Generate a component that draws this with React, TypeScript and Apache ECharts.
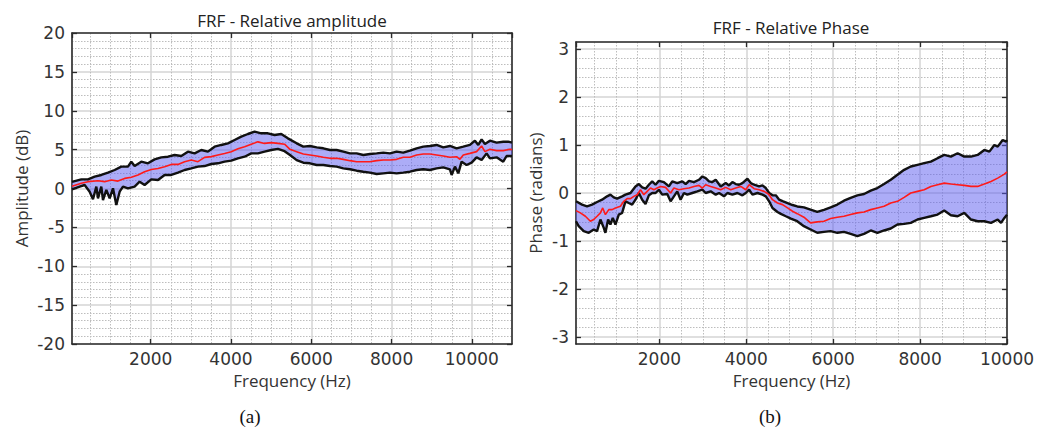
import React, { useEffect, useRef } from 'react';
import * as echarts from 'echarts';

// ---- Amplitude plot (a) : [frequency Hz, dB] ----
const ampUpper: number[][] = [
  [40, 0.85], [272, 1.18], [438, 1.18], [604, 1.52], [770, 1.74], [936, 2.04], [1102, 2.38], [1268, 2.81],
  [1434, 2.81], [1517, 3.45], [1600, 2.89], [1766, 3.45], [1932, 3.24], [2098, 3.75], [2264, 4.01],
  [2430, 4.09], [2596, 4.31], [2762, 4.18], [2928, 4.74], [3094, 4.52], [3260, 4.95], [3426, 4.74],
  [3592, 5.38], [3758, 5.6], [3924, 5.81], [4090, 6.24], [4256, 6.67], [4422, 7.01], [4588, 7.31],
  [4754, 7.1], [4920, 7.1], [5086, 6.88], [5252, 7.01], [5418, 6.45], [5636, 5.81], [5802, 5.38],
  [5968, 5.47], [6134, 5.29], [6300, 5.17], [6466, 4.95], [6632, 4.95], [6798, 4.74], [6964, 4.52],
  [7130, 4.52], [7296, 4.31], [7462, 4.44], [7628, 4.52], [7794, 4.61], [7960, 4.52], [8126, 4.74],
  [8292, 4.61], [8458, 4.87], [8624, 5.17], [8790, 5.38], [8956, 5.47], [9122, 5.6], [9288, 5.29],
  [9454, 5.47], [9620, 5.17], [9786, 5.38], [9952, 5.6], [10077, 6.15], [10160, 5.6], [10243, 6.32],
  [10326, 5.72], [10450, 6.15], [10616, 5.9], [10782, 6.02], [10907, 6.02], [11000, 5.9],
];
const ampMean: number[][] = [
  [40, 0.3], [272, 0.67], [438, 0.88], [687, 1.0], [853, 0.88], [1019, 1.1], [1185, 0.95], [1351, 1.3],
  [1517, 1.44], [1683, 1.73], [1849, 2.16], [2015, 2.45], [2181, 2.57], [2347, 2.8], [2513, 3.1],
  [2679, 3.1], [2845, 3.45], [3011, 3.66], [3177, 3.45], [3343, 4.0], [3509, 4.1], [3675, 4.3],
  [3841, 4.5], [4007, 4.74], [4173, 5.1], [4339, 5.38], [4505, 5.7], [4671, 6.0], [4837, 5.8],
  [5003, 5.9], [5169, 5.8], [5335, 5.7], [5470, 5.04], [5636, 4.74], [5802, 4.44], [5968, 4.31],
  [6134, 4.18], [6300, 4.01], [6466, 3.88], [6632, 3.88], [6798, 3.75], [6964, 3.58], [7130, 3.45],
  [7296, 3.45], [7462, 3.45], [7628, 3.58], [7794, 3.67], [7960, 3.67], [8126, 3.75], [8292, 4.01],
  [8458, 4.01], [8624, 4.31], [8790, 4.44], [8956, 4.44], [9122, 4.31], [9288, 4.18], [9454, 4.01],
  [9620, 4.09], [9703, 3.75], [9786, 4.31], [9952, 4.52], [10118, 4.74], [10243, 5.47], [10326, 4.74],
  [10450, 5.04], [10616, 4.87], [10782, 4.87], [10948, 5.04], [11000, 5.0],
];
const ampLower: number[][] = [
  [40, -0.11], [231, 0.24], [355, 0.45], [480, -0.41], [563, -1.39], [646, 0.24], [687, -1.26],
  [770, 0.24], [812, -1.48], [895, -0.19], [978, -1.26], [1061, 0.02], [1144, -2.12], [1227, -0.41],
  [1310, 0.24], [1434, 0.02], [1600, 0.24], [1725, 0.88], [1849, 0.45], [2015, 1.18], [2181, 1.09],
  [2347, 1.74], [2513, 1.74], [2679, 2.04], [2845, 2.38], [3011, 2.59], [3177, 2.81], [3343, 2.89],
  [3509, 3.15], [3675, 3.24], [3841, 3.45], [4007, 3.58], [4173, 3.88], [4339, 4.09], [4505, 4.52],
  [4671, 4.52], [4837, 4.74], [5003, 4.95], [5169, 5.1], [5335, 4.8], [5470, 4.3], [5636, 3.65],
  [5802, 3.32], [5968, 3.24], [6134, 3.02], [6300, 3.02], [6466, 2.89], [6632, 2.81], [6798, 2.59],
  [6964, 2.47], [7130, 2.29], [7296, 2.16], [7462, 2.04], [7628, 1.86], [7794, 1.95], [7960, 2.04],
  [8126, 1.95], [8292, 2.04], [8458, 2.16], [8624, 2.38], [8790, 2.47], [8956, 2.38], [9122, 2.59],
  [9288, 2.72], [9454, 2.47], [9496, 1.74], [9579, 2.81], [9662, 1.95], [9745, 3.45], [9869, 3.02],
  [9994, 3.32], [10118, 4.01], [10243, 3.67], [10367, 4.52], [10450, 3.88], [10616, 4.01],
  [10782, 3.45], [10865, 4.18], [11000, 4.18],
];

// ---- Phase plot (b) : [frequency Hz, radians] ----
const phaseUpper: number[][] = [
  [81, -0.173], [220, -0.242], [335, -0.277], [450, -0.242], [566, -0.187], [681, -0.139], [796, -0.07],
  [873, -0.035], [950, -0.09], [1027, -0.118], [1143, -0.07], [1219, -0.035], [1335, 0], [1450, 0.137],
  [1527, 0.186], [1604, 0.117], [1681, 0.089], [1758, 0.172], [1835, 0.241], [1912, 0.172], [1988, 0.254],
  [2104, 0.227], [2219, 0.137], [2296, 0.241], [2411, 0.206], [2527, 0.241], [2604, 0.186], [2681, 0.254],
  [2796, 0.227], [2911, 0.275], [2988, 0.344], [3065, 0.31], [3142, 0.241], [3219, 0.227], [3296, 0.275],
  [3411, 0.137], [3526, 0.206], [3603, 0.158], [3680, 0.227], [3757, 0.186], [3834, 0.172], [3911, 0.206],
  [4026, 0.296], [4103, 0.206], [4180, 0.172], [4295, 0.137], [4372, 0.158], [4449, 0.103], [4526, 0],
  [4603, -0.049], [4680, -0.049], [4757, -0.139], [4834, -0.17], [4949, -0.21], [5064, -0.25],
  [5172, -0.28], [5326, -0.3], [5479, -0.346], [5633, -0.394], [5787, -0.35], [5941, -0.3],
  [6095, -0.24], [6248, -0.16], [6402, -0.1], [6556, -0.049], [6710, -0.021], [6864, 0.048],
  [7017, 0.103], [7171, 0.186], [7325, 0.275], [7479, 0.379], [7633, 0.482], [7786, 0.551], [7940, 0.586],
  [8094, 0.62], [8248, 0.654], [8402, 0.724], [8555, 0.792], [8709, 0.758], [8863, 0.827], [9017, 0.758],
  [9171, 0.758], [9324, 0.792], [9478, 0.896], [9594, 0.861], [9709, 0.999], [9786, 0.965], [9901, 1.103],
  [9978, 1.068], [10000, 1.1],
];
const phaseMean: number[][] = [
  [81, -0.366], [181, -0.414], [297, -0.484], [412, -0.587], [489, -0.552], [566, -0.484], [643, -0.414],
  [696, -0.311], [758, -0.449], [835, -0.346], [912, -0.346], [989, -0.311], [1104, -0.277], [1181, -0.173],
  [1258, -0.118], [1335, -0.118], [1412, -0.07], [1489, -0.035], [1565, 0.068], [1642, -0.035], [1719, 0.034],
  [1796, 0.103], [1873, 0.068], [1950, 0.103], [2027, 0.137], [2142, 0.117], [2258, 0], [2334, 0.103],
  [2450, 0.068], [2565, 0.089], [2681, 0.103], [2796, 0.137], [2911, 0.158], [2988, 0.103], [3065, 0.172],
  [3180, 0.137], [3296, 0.103], [3411, 0.068], [3526, 0.117], [3642, 0.068], [3757, 0.103], [3873, 0.137],
  [3988, 0.068], [4065, 0.172], [4180, 0.089], [4295, 0.068], [4411, 0.034], [4526, -0.035], [4603, -0.139],
  [4718, -0.208], [4834, -0.242], [4949, -0.311], [5064, -0.38], [5172, -0.43], [5326, -0.504],
  [5479, -0.621], [5633, -0.601], [5787, -0.587], [5941, -0.532], [6095, -0.504], [6248, -0.484],
  [6402, -0.449], [6556, -0.414], [6710, -0.394], [6864, -0.346], [7017, -0.311], [7171, -0.277],
  [7325, -0.208], [7479, -0.173], [7633, -0.09], [7786, 0], [7940, 0.034], [8094, 0.068], [8248, 0.137],
  [8402, 0.172], [8555, 0.206], [8709, 0.186], [8863, 0.172], [9017, 0.158], [9171, 0.137], [9324, 0.137],
  [9478, 0.186], [9632, 0.241], [9786, 0.31], [9940, 0.392], [10000, 0.44],
];
const phaseLower: number[][] = [
  [81, -0.587], [143, -0.69], [258, -0.794], [374, -0.828], [489, -0.759], [566, -0.794], [643, -0.552],
  [720, -0.725], [758, -0.828], [820, -0.552], [873, -0.656], [927, -0.518], [989, -0.656], [1066, -0.449],
  [1143, -0.414], [1219, -0.173], [1296, -0.208], [1373, -0.242], [1450, -0.139], [1527, 0], [1604, -0.139],
  [1681, -0.228], [1758, -0.049], [1835, 0], [1912, 0], [1988, 0.068], [2065, -0.035], [2181, -0.021],
  [2258, -0.173], [2334, -0.07], [2411, 0.034], [2488, -0.139], [2565, 0], [2642, -0.035], [2757, 0],
  [2873, 0.034], [2988, 0.068], [3065, 0], [3180, 0.034], [3296, -0.035], [3373, 0], [3488, -0.07],
  [3565, 0], [3680, -0.035], [3796, 0], [3911, -0.049], [3988, 0], [4065, 0.068], [4142, -0.035],
  [4257, 0], [4372, -0.035], [4449, -0.07], [4526, -0.173], [4603, -0.311], [4718, -0.394], [4795, -0.435],
  [4911, -0.484], [5026, -0.532], [5172, -0.587], [5326, -0.69], [5479, -0.759], [5633, -0.828],
  [5787, -0.808], [5941, -0.794], [6095, -0.828], [6248, -0.808], [6402, -0.849], [6556, -0.897],
  [6710, -0.849], [6864, -0.78], [7017, -0.828], [7171, -0.78], [7325, -0.739], [7479, -0.656],
  [7633, -0.642], [7786, -0.621], [7940, -0.552], [8094, -0.518], [8248, -0.484], [8402, -0.449],
  [8555, -0.366], [8709, -0.463], [8863, -0.484], [9017, -0.414], [9171, -0.552], [9324, -0.587],
  [9478, -0.587], [9632, -0.621], [9786, -0.552], [9863, -0.621], [9940, -0.518], [10000, -0.45],
];

const titles = ['FRF - Relative amplitude', 'FRF - Relative Phase'];
const captions = ['(a)', '(b)'];
const xName = 'Frequency (Hz)';
const yNames = ['Amplitude (dB)', 'Phase (radians)'];

const FONT = '"Open Sans", "Noto Sans", sans-serif';
const NUMFONT = '"DejaVu Sans", sans-serif';
const TXT = '#333';
const AXIS = '#2b2b2b';
const FILL = 'rgba(90,90,240,0.5)';
const plain = (v: number) => String(Math.round(v));

function bottomX(gridIndex: number, min: number, max: number, showMax: boolean) {
  return {
    type: 'value', gridIndex, min, max, position: 'bottom',
    name: xName, nameLocation: 'middle', nameGap: 22,
    nameTextStyle: { fontFamily: FONT, fontSize: 17, color: TXT },
    axisLine: { show: true, onZero: false, lineStyle: { color: AXIS, width: 1.6 } },
    axisTick: { show: true, inside: true, length: 5, lineStyle: { color: AXIS, width: 1.3 } },
    axisLabel: { fontFamily: NUMFONT, fontSize: 17, color: TXT, margin: 6, showMinLabel: false, showMaxLabel: showMax, formatter: plain },
    splitLine: { show: true, lineStyle: { color: '#d4d4d4', width: 1.5 } },
    minorTick: { show: false, splitNumber: 4 },
    minorSplitLine: { show: true, lineStyle: { color: '#bdbdbd', width: 1, type: [1.5, 1.5] } },
  };
}
function topX(gridIndex: number, min: number, max: number) {
  return {
    type: 'value', gridIndex, min, max, position: 'top',
    axisLine: { show: true, onZero: false, lineStyle: { color: AXIS, width: 1.6 } },
    axisTick: { show: true, inside: true, length: 5, lineStyle: { color: AXIS, width: 1.3 } },
    axisLabel: { show: false },
    splitLine: { show: false },
  };
}
function leftY(gridIndex: number, min: number, max: number, name: string, nameGap: number, extra: any) {
  return {
    type: 'value', gridIndex, min, max, position: 'left',
    name, nameLocation: 'middle', nameGap,
    nameTextStyle: { fontFamily: FONT, fontSize: 17, color: TXT },
    axisLine: { show: true, onZero: false, lineStyle: { color: AXIS, width: 1.6 } },
    axisTick: { show: true, inside: true, length: 5, lineStyle: { color: AXIS, width: 1.3 } },
    axisLabel: { fontFamily: NUMFONT, fontSize: 17, color: TXT, margin: 7, formatter: plain, ...(extra.label || {}) },
    splitLine: { show: true, lineStyle: { color: '#d4d4d4', width: 1.5 } },
    minorTick: { show: false, splitNumber: 5 },
    minorSplitLine: { show: true, lineStyle: { color: '#bdbdbd', width: 1, type: [1.5, 1.5] } },
    ...(extra.axis || {}),
  };
}
function rightY(gridIndex: number, min: number, max: number, extra: any) {
  return {
    type: 'value', gridIndex, min, max, position: 'right',
    axisLine: { show: true, onZero: false, lineStyle: { color: AXIS, width: 1.6 } },
    axisTick: { show: true, inside: true, length: 5, lineStyle: { color: AXIS, width: 1.3 } },
    axisLabel: { show: false },
    splitLine: { show: false },
    ...(extra.axis || {}),
  };
}

function band(xi: number, yi: number, upper: number[][], lower: number[][]) {
  return {
    type: 'custom', xAxisIndex: xi, yAxisIndex: yi, data: [[upper[0][0], upper[0][1]]],
    encode: { x: 0, y: 1 }, z: 1, silent: true,
    renderItem: (_p: any, api: any) => {
      const pts = upper.map((p) => api.coord(p)).concat(lower.slice().reverse().map((p) => api.coord(p)));
      return { type: 'polygon', shape: { points: pts }, style: { fill: FILL } };
    },
  };
}
function line(xi: number, yi: number, data: number[][], color: string, width: number, z: number) {
  return {
    type: 'line', xAxisIndex: xi, yAxisIndex: yi, data, showSymbol: false, symbol: 'none',
    lineStyle: { color, width }, z, silent: true,
  };
}

export default function App() {
  const ref = useRef<HTMLDivElement>(null);
  useEffect(() => {
    document.body.style.margin = '0';
    const chart = echarts.init(ref.current!, null, { renderer: 'svg' });
    const option: any = {
      animation: false,
      backgroundColor: '#ffffff',
      grid: [
        { left: 72, top: 33, width: 440, height: 311 },
        { left: 576, top: 42, width: 431, height: 302 },
      ],
      xAxis: [bottomX(0, 40, 11000, false), topX(0, 40, 11000), bottomX(1, 81, 10000, true), topX(1, 81, 10000)],
      yAxis: [
        leftY(0, -20, 20, yNames[0], 42, { axis: { interval: 5 } }),
        rightY(0, -20, 20, { axis: { interval: 5 } }),
        leftY(1, -Math.PI, Math.PI, yNames[1], 32, { axis: { splitNumber: 6 }, label: { showMinLabel: false, showMaxLabel: false } }),
        rightY(1, -Math.PI, Math.PI, { axis: { splitNumber: 6 } }),
      ],
      series: [
        band(0, 0, ampUpper, ampLower),
        line(0, 0, ampUpper, '#111111', 2.4, 3),
        line(0, 0, ampLower, '#111111', 2.4, 3),
        line(0, 0, ampMean, '#ff1a1a', 1.6, 4),
        band(2, 2, phaseUpper, phaseLower),
        line(2, 2, phaseUpper, '#111111', 2.4, 3),
        line(2, 2, phaseLower, '#111111', 2.4, 3),
        line(2, 2, phaseMean, '#ff1a1a', 1.6, 4),
      ],
      graphic: [
        { type: 'text', x: 292, y: 20, style: { text: titles[0], fill: '#222', font: `17px ${FONT}`, textAlign: 'center', textVerticalAlign: 'middle' } },
        { type: 'text', x: 791, y: 27, style: { text: titles[1], fill: '#222', font: `17px ${FONT}`, textAlign: 'center', textVerticalAlign: 'middle' } },
        { type: 'text', x: 250, y: 416, style: { text: captions[0], fill: '#111', font: '19px "Liberation Serif", serif', textAlign: 'center', textVerticalAlign: 'middle' } },
        { type: 'text', x: 770, y: 416, style: { text: captions[1], fill: '#111', font: '19px "Liberation Serif", serif', textAlign: 'center', textVerticalAlign: 'middle' } },
      ],
    };
    chart.setOption(option);
    return () => chart.dispose();
  }, []);
  return <div ref={ref} style={{ width: 1039, height: 431 }} />;
}
